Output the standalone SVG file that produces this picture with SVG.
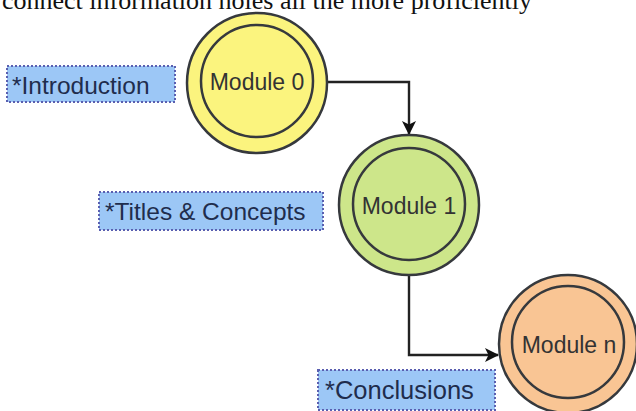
<svg xmlns="http://www.w3.org/2000/svg" width="636" height="411" viewBox="0 0 636 411">
<defs>
<marker id="arr" markerWidth="14" markerHeight="14" refX="13" refY="7" orient="auto" markerUnits="userSpaceOnUse">
<path d="M0,0 L14,7 L0,14 L3.5,7 Z" fill="#111"/>
</marker>
<style>
.outer{stroke:#36393d;stroke-width:2.5}
.inner{fill:none;stroke:#36393d;stroke-width:2.5}
.mt{font-family:"Liberation Sans",Arial,sans-serif;font-size:23px;fill:#333;text-anchor:middle;dominant-baseline:central}
.lb{fill:#9cc7f6;stroke:#5a5fb0;stroke-width:2;stroke-dasharray:2 2}
.lt{font-family:"Liberation Sans",Arial,sans-serif;font-size:24.5px;fill:#1f2d4d;dominant-baseline:central}
.conn{fill:none;stroke:#222;stroke-width:2.4}
</style>
</defs>
<rect width="636" height="411" fill="#fff"/>
<text x="2" y="9" font-family="'Liberation Serif','Times New Roman',serif" font-size="26" fill="#111">connect information holes all the more proficiently</text>
<g id="connectors">
<path class="conn" d="M327,82 H409 V134" marker-end="url(#arr)"/>
<path class="conn" d="M409,275 V355 H498" marker-end="url(#arr)"/>
</g>
<g id="module0">
<circle class="outer" cx="257" cy="83" r="70" fill="#fbf47e"/>
<circle class="inner" cx="257" cy="81" r="56"/>
<text class="mt" x="257" y="82">Module 0</text>
</g>
<g id="module1">
<circle class="outer" cx="409" cy="205" r="70" fill="#cde68a"/>
<circle class="inner" cx="409" cy="204" r="56"/>
<text class="mt" x="409" y="206">Module 1</text>
</g>
<g id="modulen">
<circle class="outer" cx="568" cy="344" r="69" fill="#f9c594"/>
<circle class="inner" cx="568" cy="342" r="56"/>
<text class="mt" x="569" y="345">Module n</text>
</g>
<g id="label-intro">
<rect class="lb" x="7" y="66" width="168" height="36"/>
<text class="lt" x="12" y="85">*Introduction</text>
</g>
<g id="label-titles">
<rect class="lb" x="99" y="192" width="224" height="38"/>
<text class="lt" x="105" y="211">*Titles &amp; Concepts</text>
</g>
<g id="label-conclusions">
<rect class="lb" x="318" y="370" width="177" height="40"/>
<text class="lt" x="325" y="390" style="font-size:25.5px">*Conclusions</text>
</g>
</svg>
